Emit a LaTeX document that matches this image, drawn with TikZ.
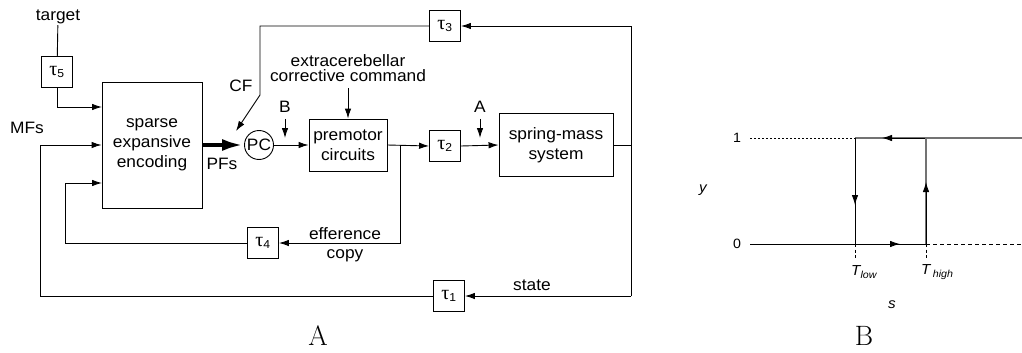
\documentclass[tikz,border=0pt]{standalone}
\usepackage{fontspec}
\newfontfamily\arial[FakeStretch=1.05]{Liberation Sans}
\newfontfamily\tauf{Liberation Serif}
\usetikzlibrary{arrows.meta}
\tikzset{
  lab/.style={font=\arial\fontsize{16.5}{20}\selectfont, inner sep=1pt, align=center},
  blk/.style={lab, draw, line width=0.9pt},
  tbox/.style={lab, draw, line width=0.9pt, minimum width=31pt, minimum height=31pt, inner sep=0pt},
  ln/.style={line width=0.9pt},
  arr/.style={ln, -{Latex[length=10pt,width=6.5pt]}},
  thick arr/.style={line width=4.5pt, -{Latex[length=22pt,width=12pt]}},
  small/.style={font=\arial\fontsize{13.5}{15}\selectfont, inner sep=1pt},
  smallit/.style={font=\arial\itshape\fontsize{14.5}{16}\selectfont, inner sep=1pt},
  panel/.style={font=\fontsize{28}{30}\selectfont, inner sep=0pt},
  greyln/.style={line width=1.3pt, black!55},
  dotln/.style={ln, dash pattern=on 1.5pt off 2.5pt},
  dashln/.style={ln, dash pattern=on 4pt off 3pt}
}
\newcommand\tauT[1]{{\tauf\fontsize{20}{20}\selectfont τ}\textsubscript{#1}}
\begin{document}
\begin{tikzpicture}[x=1pt,y=-1pt]
\useasboundingbox (0,0) rectangle (1022,353);
% ---------------- panel A ----------------
\node[lab] (target) at (58,17) {target};
\node[tbox] (t5) at (57,72) {\tauT{5}};
\node[blk, minimum width=100pt, minimum height=126pt] (enc) at (152,145) {sparse\\expansive\\encoding};
\node[lab] (mfs) at (27,128) {MFs};
\node[lab, draw, circle, line width=0.9pt, inner sep=0pt, minimum size=29pt] (pc) at (259,145) {PC};
\node[lab] (pfs) at (222,164) {PFs};
\node[lab] (cf) at (241,86) {CF};
\node[lab] (B) at (285,107) {B};
\node[blk, minimum width=78pt, minimum height=52pt] (pm) at (348,145) {premotor\\circuits};
\node[lab, font=\arial\fontsize{16.5}{14.5}\selectfont] (ext) at (348,68) {extracerebellar\\corrective command};
\node[tbox] (t2) at (445,146) {\tauT{2}};
\node[lab] (A) at (480,107) {A};
\node[blk, minimum width=114pt, minimum height=63pt] (sm) at (556,145) {spring-mass\\system};
\node[tbox] (t3) at (445,26) {\tauT{3}};
\node[tbox] (t4) at (263,243) {\tauT{4}};
\node[tbox] (t1) at (449,296) {\tauT{1}};
\node[lab] (eff) at (345,234) {efference};
\node[lab] (copy) at (345,256) {copy};
\node[lab] (state) at (532,285) {state};
\node[panel] (pA) at (318,336) {A};

\coordinate (e1) at (102,107);
\coordinate (e3) at (102,183);
\coordinate (lx) at (40,145);
\coordinate (c4) at (65,183);
\coordinate (br) at (400,145);
\coordinate (rt) at (631,26);
\coordinate (rb) at (631,296);
\coordinate (rm) at (631,145);
\coordinate (cfk) at (260,95);
\coordinate (cft) at (236,131);
\coordinate (bt) at (285,138);
\coordinate (at) at (480,138);
\coordinate (et) at (348,88);

\draw[ln] (target) -- (t5);
\draw[arr] (t5.south) |- (e1);
\draw[arr] (t1.west) -| (lx) -- (enc.west);
\draw[arr] (t4.west) -| (c4) -- (e3);
\draw[thick arr] (enc.east) -- (pc.west);
\draw[arr] (pc.east) -- (pm.west);
\draw[arr, shorten <=5pt] (B.south) -- (bt);
\draw[arr] (et) -- (pm.north);
\draw[arr] (pm.east) -- (t2.west);
\draw[arr] (br) |- (t4.east);
\draw[arr] (t2.east) -- (sm.west);
\draw[arr, shorten <=5pt] (A.south) -- (at);
\draw[ln] (sm.east) -- (rm);
\draw[arr] (rb) -- (rt) -- (t3.east);
\draw[arr] (rb) -- (t1.east);
\draw[arr] (t3.west) -| (cfk) -- (cft);

% ---------------- panel B ----------------
\node[small] (one) at (737,138) {1};
\node[small] (zero) at (737,244) {0};
\node[smallit] (yl) at (703,190) {y};
\node[smallit] (sl) at (892,305) {s};
\node[smallit, anchor=west] (tlow) at (850,272) {T\textsubscript{low}};
\node[smallit, anchor=west] (thigh) at (920,272) {T\,\textsubscript{high}};
\node[panel] (pB) at (864,336) {B};

\coordinate (x0) at (750,244);
\coordinate (lo0) at (855,244);
\coordinate (hi0) at (926,244);
\coordinate (r0) at (1022,244);
\coordinate (x1) at (750,138);
\coordinate (lo1) at (855,138);
\coordinate (hi1) at (926,138);
\coordinate (r1) at (1022,138);
\coordinate (lot) at (855,258);
\coordinate (hit) at (926,258);
\coordinate (m0) at (900,244);
\coordinate (m1) at (882,138);
\coordinate (mlo) at (855,205);
\coordinate (mhi) at (926,182);

\draw[dotln] (x1) -- (lo1);
\draw[greyln] (r1) -- (lo1);
\draw[arr] (hi1) -- (m1);
\draw[ln] (lo1) -- (lo0);
\draw[arr] (lo1) -- (mlo);
\draw[greyln, line width=1.1pt] (hi0) -- (hi1);
\draw[arr] (hi0) -- (mhi);
\draw[ln] (x0) -- (hi0);
\draw[arr] (lo0) -- (m0);
\draw[dashln] (hi0) -- (r0);
\draw[dash pattern=on 3pt off 2.5pt, line width=0.8pt] (lo0) -- (lot);
\draw[dash pattern=on 3pt off 2.5pt, line width=0.8pt] (hi0) -- (hit);
\end{tikzpicture}
\end{document}
